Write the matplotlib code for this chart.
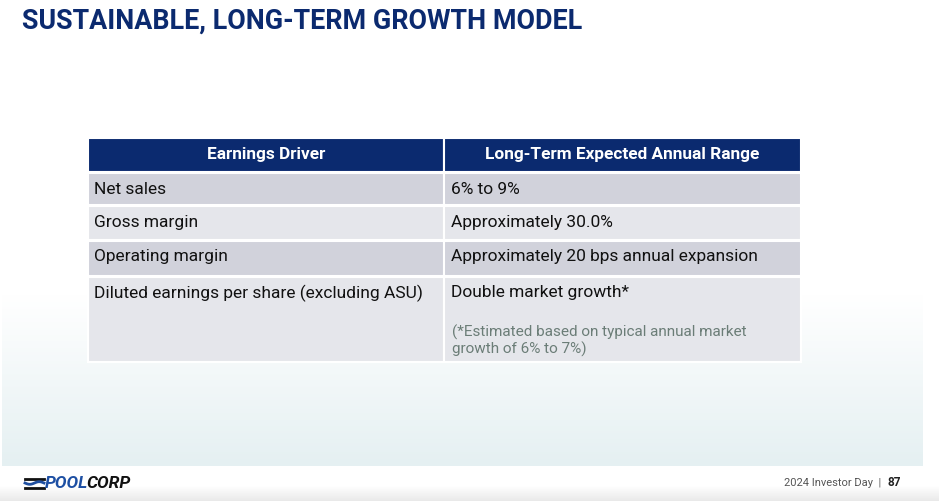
import numpy as np
import matplotlib.pyplot as plt
from matplotlib.patches import Rectangle
from matplotlib.colors import LinearSegmentedColormap

# table content
title = "SUSTAINABLE, LONG-TERM GROWTH MODEL"
headers = ["Earnings Driver", "Long-Term Expected Annual Range"]
drivers = ["Net sales", "Gross margin", "Operating margin",
           "Diluted earnings per share (excluding ASU)"]
ranges = ["6% to 9%", "Approximately 30.0%",
          "Approximately 20 bps annual expansion", "Double market growth*"]
footnote = "(*Estimated based on typical annual market\ngrowth of 6% to 7%)"
footer = "2024 Investor Day  |  "
page = "87"

# layout in pixel coordinates (y grows downward)
W, H = 939, 501
x0, xmid, x1 = 88, 444, 801
row_edges = [138, 172, 205, 240, 276, 362]
navy = "#0b2a6f"
row_colors = ["#d1d2db", "#e5e6eb", "#d1d2db", "#e5e6eb"]

fig = plt.figure(figsize=(W / 100, H / 100), dpi=100)
ax = fig.add_axes([0, 0, 1, 1])
ax.set_xlim(0, W)
ax.set_ylim(H, 0)
ax.axis("off")

# background gradient band
cmap = LinearSegmentedColormap.from_list("bg", ["#ffffff", "#e5f0f2"])
grad = np.linspace(0, 1, 200).reshape(-1, 1)
ax.imshow(grad, cmap=cmap, aspect="auto", extent=(2, 923, 466, 295), zorder=0)
# bottom gray strip
cmap2 = LinearSegmentedColormap.from_list("ft", ["#ffffff", "#e9e9e9"])
ax.imshow(grad, cmap=cmap2, aspect="auto", extent=(0, W, 501, 486), zorder=0)

ax.text(22, 21, title, fontsize=19.4, fontweight="bold", family="Roboto",
        color="#0b2a6f", va="center", ha="left")

# header row
top, bot = row_edges[0], row_edges[1]
for (a, b), lab in zip([(x0, xmid), (xmid, x1)], headers):
    ax.add_patch(Rectangle((a, top), b - a, bot - top, facecolor=navy,
                           edgecolor="white", lw=1.5, zorder=2))
    ax.text((a + b) / 2, (top + bot) / 2, lab, color="white", fontsize=12.4,
            fontweight="bold", family="Roboto", ha="center", va="center", zorder=3)

# body rows
for i, (d, r) in enumerate(zip(drivers, ranges)):
    top, bot = row_edges[i + 1], row_edges[i + 2]
    for a, b in [(x0, xmid), (xmid, x1)]:
        ax.add_patch(Rectangle((a, top + 1), b - a, bot - top - 1,
                               facecolor=row_colors[i], edgecolor="white",
                               lw=1.5, zorder=2))
    ty = top + 17
    ax.text(x0 + 6, ty, d, fontsize=12.5, family="Roboto", color="#111111",
            va="center", ha="left", zorder=3)
    ax.text(xmid + 7, ty, r, fontsize=12.5, family="Roboto", color="#111111",
            va="center", ha="left", zorder=3)

ax.text(xmid + 8, 341, footnote, fontsize=11, family="Roboto",
        color="#6b7d77", va="center", ha="left", linespacing=1.15, zorder=3)

# footer
ax.text(887, 483, footer, fontsize=8, family="Roboto", color="#555555",
        va="center", ha="right")
ax.text(888, 483, page, fontsize=8.5, family="Roboto", fontweight="bold",
        color="#222222", va="center", ha="left")

# logo
xs = np.linspace(25, 44, 30)
for k, yy in enumerate([478.5, 483, 487.5]):
    wave = 1.3 * np.sin((xs - 25) / 19 * 2 * np.pi) if k == 1 else 0 * xs
    ax.plot(xs, yy + wave, color="#1f4fa0" if k == 1 else "#111111", lw=2)
ax.text(45, 483, "POOL", fontsize=12.5, family="Roboto", fontweight="bold",
        style="italic", color="#1d4fa3", va="center", ha="left")
ax.text(86, 483, "CORP", fontsize=12.5, family="Roboto", fontweight="bold",
        style="italic", color="#111111", va="center", ha="left")

fig.savefig("out.png", dpi=100)
